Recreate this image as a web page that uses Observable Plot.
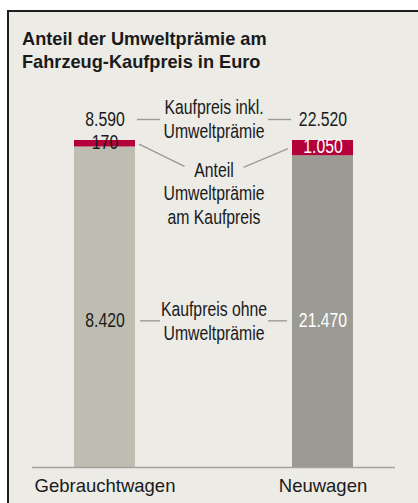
<!DOCTYPE html>
<html><head><meta charset="utf-8">
<script src="https://cdn.jsdelivr.net/npm/d3@7"></script>
<script src="https://cdn.jsdelivr.net/npm/@observablehq/plot@0.6"></script>
<style>
html,body{margin:0;padding:0;background:#fff;width:418px;height:503px;overflow:hidden}
#panel{position:absolute;left:7px;top:10px;width:411px;height:493px;box-sizing:border-box;background:#ecebe6;border-top:2px solid #1e1e1e;border-left:2px solid #1e1e1e}
#title{height:78px;box-sizing:border-box;padding:16px 0 0 13px;font:bold 18.2px/23px "Liberation Sans",Arial,sans-serif;color:#1a1a1a}
#chart svg{display:block}
</style></head><body>
<div id="panel"><div id="title">Anteil der Umweltprämie am<br>Fahrzeug-Kaufpreis in Euro</div><div id="chart"></div></div>
<script>
// ---- data ----
const categories = ["Gebrauchtwagen", "Neuwagen"];
const preisOhnePraemie = [8420, 21470];
const anteilPraemie = [170, 1050];
const preisInklPraemie = [8590, 22520];
const annotationTop = "Kaufpreis inkl.\nUmweltprämie";
const annotationMid = "Anteil\nUmweltprämie\nam Kaufpreis";
const annotationLow = "Kaufpreis ohne\nUmweltprämie";

// ---- layout / style constants ----
const labelYLow = 0.45;
const labelYMid = 0.84;
const font = "'Liberation Sans',Arial,sans-serif";
const labelSize = 19.5;
const condense = 0.81;
const textColor = "#1a1a1a";
const colors = {ohne: ["#bdbdb2", "#9c9b93"], praemie: "#b3003a"};

const fmt = d3.formatLocale({decimal: ",", thousands: ".", grouping: [3], currency: ["", " €"]}).format(",");

const rows = categories.flatMap((k, i) => [
  {kategorie: k, i, teil: "ohne", wert: preisOhnePraemie[i]},
  {kategorie: k, i, teil: "praemie", wert: anteilPraemie[i]}
]);
const perCat = categories.map((k, i) => ({kategorie: k, i, ohne: preisOhnePraemie[i], anteil: anteilPraemie[i], inkl: preisInklPraemie[i]}));

function connectors(index, scales, values, dims) {
  const {x, y} = scales;
  const bw = x.bandwidth();
  const xc = (dims.marginLeft + dims.width - dims.marginRight) / 2;
  const leftEdge = x(categories[0]) + bw;
  const rightEdge = x(categories[1]);
  const yTop = dims.marginTop - 20.5;
  const yLow = y(labelYLow) + 1;
  const yMidLine1 = y(labelYMid) - 26;
  const redMid = (i) => y((preisOhnePraemie[i] + anteilPraemie[i] / 2) / preisInklPraemie[i]);
  const segs = [
    [leftEdge + 2, yTop, leftEdge + 25, yTop],
    [rightEdge - 24, yTop, rightEdge - 1, yTop],
    [leftEdge + 5, yLow, leftEdge + 25, yLow],
    [rightEdge - 24, yLow, rightEdge - 5, yLow],
    [leftEdge + 4, redMid(0) + 1, xc - 29, yMidLine1],
    [xc + 30, yMidLine1 + 1, rightEdge - 4, redMid(1) + 1]
  ];
  const g = d3.create("svg:g").attr("stroke", "#9b9b93").attr("stroke-width", 1.4).attr("fill", "none");
  g.selectAll("line").data(segs).join("line")
    .attr("x1", d => d[0]).attr("y1", d => d[1]).attr("x2", d => d[2]).attr("y2", d => d[3]);
  return g.node();
}

const labelOpts = {fontFamily: font, fontSize: labelSize};

const chart = Plot.plot({
  width: 409,
  height: 413,
  marginTop: 50,
  marginBottom: 36,
  marginLeft: 23,
  marginRight: 23,
  style: {background: "transparent", fontFamily: font, color: textColor},
  x: {domain: categories, paddingInner: 0.72, paddingOuter: 0.19, align: 0.5, axis: null},
  y: {domain: [0, 1], axis: null},
  marks: [
    Plot.barY(rows, Plot.stackY({
      x: "kategorie", y: "wert", offset: "normalize",
      fill: d => d.teil === "praemie" ? colors.praemie : colors.ohne[d.i]
    })),
    Plot.ruleY([0], {stroke: "#a3a39d", strokeWidth: 1.5}),
    // category labels below the baseline (first text mark: not condensed)
    Plot.text(categories, {x: d => d, frameAnchor: "bottom", lineAnchor: "middle", dy: 19,
      fontFamily: font, fontSize: 18.5, fill: textColor}),
    // totals above bars
    Plot.text(perCat, {x: "kategorie", frameAnchor: "top", lineAnchor: "middle", dy: -20.5,
      text: d => fmt(d.inkl), ...labelOpts, fill: textColor}),
    // premium share labels
    Plot.text(perCat, {x: "kategorie", y: d => (d.ohne + d.anteil / 2) / d.inkl, dy: -1,
      text: d => fmt(d.anteil), ...labelOpts,
      fill: d => d.i === 1 ? "white" : textColor}),
    // price without premium
    Plot.text(perCat, {x: "kategorie", y: () => labelYLow,
      text: d => fmt(d.ohne), ...labelOpts,
      fill: d => d.i === 1 ? "white" : textColor}),
    // annotations
    Plot.text([annotationTop], {text: d => d, frameAnchor: "top", lineAnchor: "middle", dy: -22,
      lineHeight: 1.23, ...labelOpts, fill: textColor}),
    Plot.text([annotationMid], {text: d => d, y: () => labelYMid, frameAnchor: "middle", lineAnchor: "middle",
      lineHeight: 1.23, ...labelOpts, fill: textColor}),
    Plot.text([annotationLow], {text: d => d, y: () => labelYLow, frameAnchor: "middle", lineAnchor: "middle",
      lineHeight: 1.23, ...labelOpts, fill: textColor}),
    connectors
  ]
});

// condense the inner labels horizontally (narrow typeface look); skip the category labels
Array.from(chart.querySelectorAll('g[aria-label="text"]')).slice(1).forEach(g => {
  g.querySelectorAll("text").forEach(t => {
    const tr = t.getAttribute("transform");
    if (tr) t.setAttribute("transform", tr + ` scale(${condense},1)`);
    else {
      const x = +t.getAttribute("x") || 0;
      t.setAttribute("transform", `translate(${x},0) scale(${condense},1) translate(${-x},0)`);
    }
  });
});
document.getElementById("chart").appendChild(chart);
</script>
</body></html>
